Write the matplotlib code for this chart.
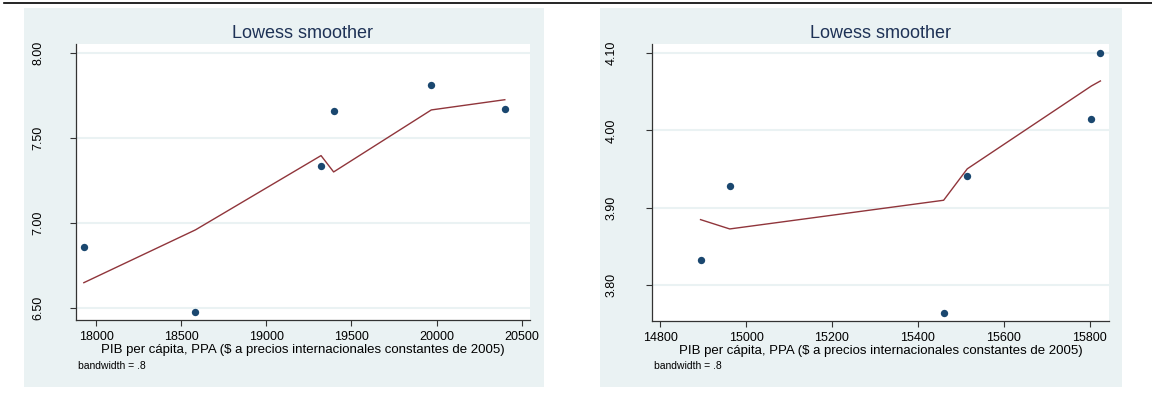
import matplotlib
matplotlib.use('Agg')
import matplotlib.pyplot as plt
from matplotlib.patches import Rectangle
from matplotlib.lines import Line2D

# data
gdp_left = [17927, 18583, 19321, 19395, 19969, 20401]
val_left = [6.862, 6.480, 7.337, 7.656, 7.809, 7.668]
smooth_left = [6.650, 6.960, 7.396, 7.300, 7.664, 7.724]
xticks_left = [18000, 18500, 19000, 19500, 20000, 20500]
yticks_left = [6.50, 7.00, 7.50, 8.00]

gdp_right = [14894, 14962, 15460, 15515, 15804, 15825]
val_right = [3.8325, 3.9286, 3.7636, 3.9403, 4.0151, 4.1008]
smooth_right = [3.8844, 3.8723, 3.9095, 3.9502, 4.0576, 4.0641]
xticks_right = [14800, 15000, 15200, 15400, 15600, 15800]
yticks_right = [3.80, 3.90, 4.00, 4.10]

title = 'Lowess smoother'
xlabel = 'PIB per cápita, PPA ($ a precios internacionales constantes de 2005)'
note = 'bandwidth = .8'

bg = '#EAF2F3'
navy = '#1A476F'
maroon = '#90353B'

plt.rcParams['font.family'] = ['Liberation Sans', 'DejaVu Sans']

W, H = 1152, 394
fig = plt.figure(figsize=(W / 100, H / 100), dpi=100)
fig.patch.set_facecolor('white')


def box(x0, y0, x1, y1):
    # pixel box (top-left origin) -> figure fraction rect
    return [x0 / W, 1 - y1 / H, (x1 - x0) / W, (y1 - y0) / H]


# black rule across the top
fig.add_artist(Line2D([4 / W, 1], [1 - 3.3 / H, 1 - 3.3 / H], color='black', lw=1.2,
                      transform=fig.transFigure))


def panel(bgbox, axbox, x, y, smooth, xticks, yticks, xlim, ylim, ypad):
    r = box(*bgbox)
    fig.patches.append(Rectangle((r[0], r[1]), r[2], r[3], transform=fig.transFigure,
                                 facecolor=bg, edgecolor='none', zorder=-5))
    ax = fig.add_axes(box(*axbox))
    ax.set_facecolor('white')
    ax.scatter(x, y, s=28, color=navy, zorder=3, linewidths=0)
    ax.plot(x, smooth, color=maroon, lw=1.0, zorder=2)
    ax.set_xlim(*xlim)
    ax.set_ylim(*ylim)
    ax.set_xticks(xticks)
    ax.set_yticks(yticks)
    ax.set_yticklabels(['%.2f' % v for v in yticks])
    for s in ['top', 'right']:
        ax.spines[s].set_visible(False)
    for s in ['left', 'bottom']:
        ax.spines[s].set_color('#333333')
        ax.spines[s].set_linewidth(0.9)
    ax.grid(axis='y', color=bg, lw=1.5, zorder=1)
    ax.set_axisbelow(True)
    ax.tick_params(axis='x', length=4, width=0.8, pad=4, labelsize=9, color='#333333')
    ax.tick_params(axis='y', length=4.3, width=0.8, pad=ypad, labelsize=9, color='#333333')
    for lab in ax.get_yticklabels():
        lab.set_rotation(90)
        lab.set_va('center')
        lab.set_ha('right')
    ax.set_title(title, fontsize=13, color='#1E3256', pad=4)
    ax.set_xlabel(xlabel, fontsize=9.5, labelpad=0.5)
    fig.text((axbox[0] + 2.5) / W, 1 - 369 / H, note, fontsize=7.5, va='baseline', ha='left')
    return ax


panel((24, 7.5, 544, 387), (76, 44, 530, 320), gdp_left, val_left, smooth_left,
      xticks_left, yticks_left, (17881, 20549), (6.431, 8.051), 18.5)
panel((600, 7.5, 1122, 387), (652, 44, 1109, 321), gdp_right, val_right, smooth_right,
      xticks_right, yticks_right, (14781, 15845), (3.753, 4.112), 20.5)

fig.savefig('out.png', dpi=100)
